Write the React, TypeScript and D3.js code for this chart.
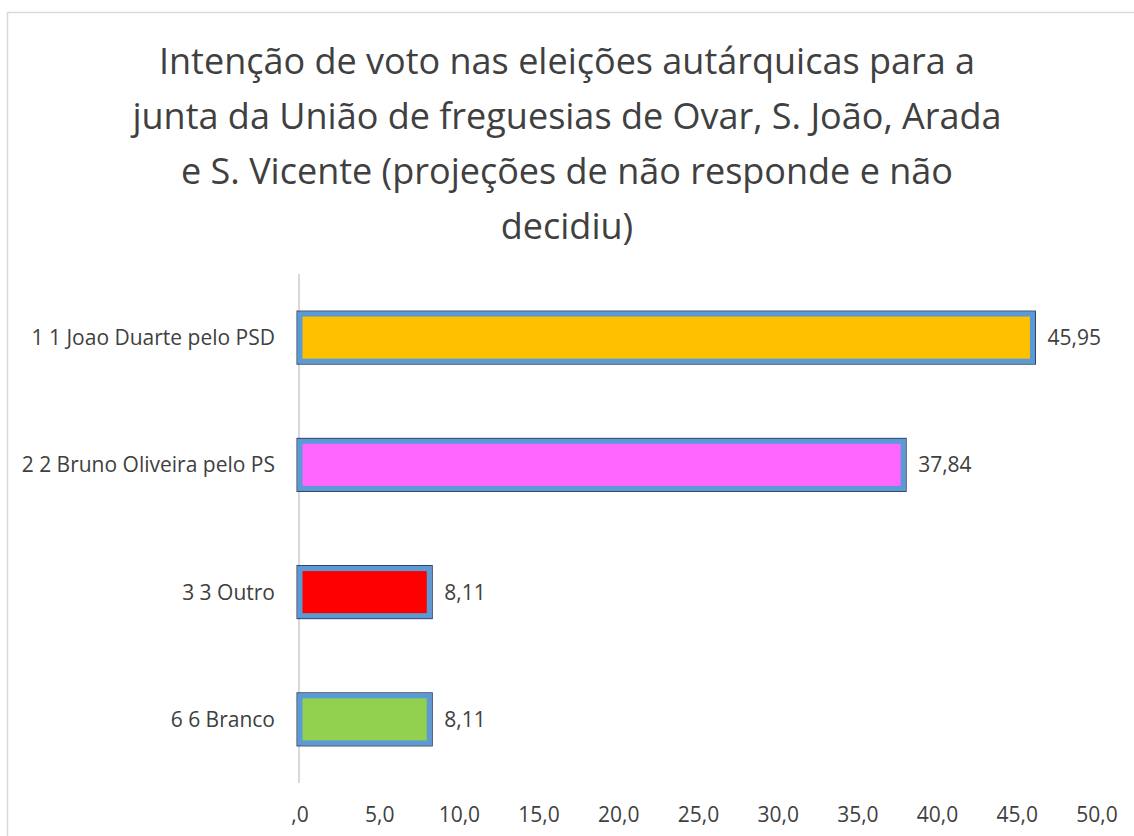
import { useRef, useEffect } from 'react';
import * as d3 from 'd3';

const titleLines = [
  'Intenção de voto nas eleições autárquicas para a',
  'junta da União de freguesias de Ovar, S. João, Arada',
  'e S. Vicente (projeções de não responde e não',
  'decidiu)',
];
const categories = [
  '1 1 Joao Duarte pelo PSD',
  '2 2 Bruno Oliveira pelo PS',
  '3 3 Outro',
  '6 6 Branco',
];
const values = [45.95, 37.84, 8.11, 8.11];
const valueLabels = ['45,95', '37,84', '8,11', '8,11'];
const barColors = ['#FFC000', '#FF66FF', '#FF0000', '#92D050'];
const xTicks = [0, 5, 10, 15, 20, 25, 30, 35, 40, 45, 50];
const xTickLabels = [',0', '5,0', '10,0', '15,0', '20,0', '25,0', '30,0', '35,0', '40,0', '45,0', '50,0'];

const App = () => {
  const ref = useRef<SVGSVGElement | null>(null);
  const width = 1134;
  const height = 836;
  const font = '"Open Sans", sans-serif';
  const textColor = '#404040';

  useEffect(() => {
    if (!ref.current) return;
    const svg = d3.select(ref.current);
    svg.selectAll('*').remove();

    // chart area border (runs off the right and bottom of the picture)
    svg
      .append('rect')
      .attr('x', 7.5)
      .attr('y', 12.5)
      .attr('width', width + 20)
      .attr('height', height + 20)
      .attr('fill', '#fff')
      .attr('stroke', '#d9d9d9')
      .attr('stroke-width', 1.5);

    svg
      .append('g')
      .selectAll('text')
      .data(titleLines)
      .enter()
      .append('text')
      .attr('x', width / 2)
      .attr('y', (d, i) => 74 + i * 55)
      .attr('text-anchor', 'middle')
      .style('font-family', font)
      .style('font-size', '36px')
      .style('fill', textColor)
      .text(d => d);

    const x = d3.scaleLinear().domain([0, 50]).range([300, 1097]);
    const y = d3
      .scaleBand()
      .domain(categories)
      .range([274, 783])
      .paddingInner(0.63)
      .paddingOuter(0.315);

    // vertical axis line
    svg
      .append('line')
      .attr('x1', x(0) - 1)
      .attr('x2', x(0) - 1)
      .attr('y1', y.range()[0])
      .attr('y2', y.range()[1])
      .attr('stroke', '#d9d9d9')
      .attr('stroke-width', 2);

    const rows = categories.map((c, i) => ({
      cat: c,
      value: values[i],
      label: valueLabels[i],
      color: barColors[i],
    }));

    const bars = svg.append('g');
    bars
      .selectAll('rect.bar')
      .data(rows)
      .enter()
      .append('rect')
      .attr('class', 'bar')
      .attr('x', x(0))
      .attr('y', d => y(d.cat)!)
      .attr('width', d => x(d.value) - x(0))
      .attr('height', y.bandwidth())
      .attr('fill', d => d.color)
      .attr('stroke', '#5B9BD5')
      .attr('stroke-width', 5);

    bars
      .selectAll('rect.edge')
      .data(rows)
      .enter()
      .append('rect')
      .attr('class', 'edge')
      .attr('x', x(0) - 3)
      .attr('y', d => y(d.cat)! - 3)
      .attr('width', d => x(d.value) - x(0) + 6)
      .attr('height', y.bandwidth() + 6)
      .attr('fill', 'none')
      .attr('stroke', '#1F3864')
      .attr('stroke-width', 1);

    bars
      .selectAll('text.value')
      .data(rows)
      .enter()
      .append('text')
      .attr('class', 'value')
      .attr('x', d => x(d.value) + 15)
      .attr('y', d => y(d.cat)! + y.bandwidth() / 2)
      .attr('dy', '0.36em')
      .style('font-family', font)
      .style('font-size', '21px')
      .style('fill', textColor)
      .text(d => d.label);

    // category labels
    svg
      .append('g')
      .selectAll('text')
      .data(categories)
      .enter()
      .append('text')
      .attr('x', x(0) - 25)
      .attr('y', d => y(d)! + y.bandwidth() / 2)
      .attr('dy', '0.36em')
      .attr('text-anchor', 'end')
      .style('font-family', font)
      .style('font-size', '21px')
      .style('fill', textColor)
      .text(d => d);

    // x tick labels
    svg
      .append('g')
      .selectAll('text')
      .data(xTicks)
      .enter()
      .append('text')
      .attr('x', d => x(d))
      .attr('y', 822)
      .attr('text-anchor', 'middle')
      .style('font-family', font)
      .style('font-size', '21px')
      .style('fill', textColor)
      .text((d, i) => xTickLabels[i]);
  }, []);

  return (
    <svg
      ref={ref}
      width={width}
      height={height}
      style={{ position: 'absolute', left: 0, top: 0, background: '#fff' }}
    />
  );
};

export default App;
